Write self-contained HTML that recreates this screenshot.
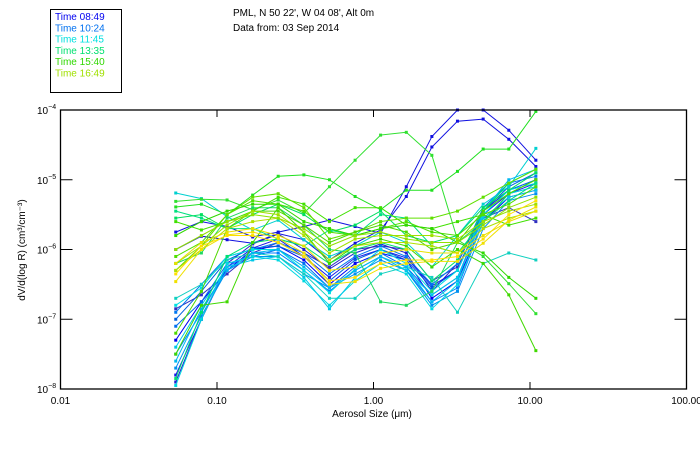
<!DOCTYPE html>
<html><head><meta charset="utf-8"><style>
body{margin:0;background:#fff;}
svg{display:block;font-family:"Liberation Sans",sans-serif;}
</style></head><body>
<svg id="chart" width="700" height="450">
<g id="legend">
<rect x="50.5" y="9.5" width="71" height="83" fill="none" stroke="#000"/>
</g>
<text x="233" y="16" font-size="10">PML, N 50 22', W 04 08', Alt 0m</text>
<text x="233" y="31" font-size="10">Data from: 03 Sep 2014</text>
<g id="plot"></g>
<g id="axes"></g>
<text x="372" y="417" font-size="10" text-anchor="middle">Aerosol Size (μm)</text>
<text transform="translate(25,250) rotate(-90)" font-size="10" text-anchor="middle">dV/d(log R) (cm³/cm⁻³)</text>
</svg>
<script>
const sizes=[0.0545,0.0795,0.116,0.169,0.246,0.359,0.523,0.763,1.11,1.62,2.36,3.44,5.02,7.32,10.9];
const xTicks=[0.01,0.1,1,10,100];
const xTickLabels=["0.01","0.10","1.00","10.00","100.00"];
const yTickExps=[-4,-5,-6,-7,-8];
const legendTimes=["08:49","10:24","11:45","13:35","15:40","16:49"];
const legendColors=["#0000f0","#0070f0","#00e0e0","#00e070","#30d800","#a0e000"];
const seriesColors=["#1010e0","#1010e0","#2020d0","#1818e8","#3030c0","#0000f0",
"#0070f0","#0080ff","#0060e0","#0090f0","#0078f0",
"#00d0d0","#00d8e0","#00c8e8","#00e0e0","#10d0c0","#00b8f0",
"#30e030","#20e020","#00e080","#00e070","#20d860","#00e060",
"#40e000","#50e000","#40d800","#60e000","#30d800","#50d800",
"#a0e000","#b0e000","#90e000",
"#f0e000","#ffe000","#e8e000"];
const seriesLog10=[
[-5.75,-5.60,-5.67,-5.82,-5.75,-5.67,-5.58,-5.67,-5.77,-5.10,-4.38,-4.0,-4.0,-4.29,-4.72],
[-6.0,-5.81,-5.86,-5.91,-5.77,-5.86,-6.15,-5.91,-5.72,-5.24,-4.53,-4.16,-4.13,-4.42,-4.81],
[-7.9,-7.0,-6.2,-5.92,-5.78,-6.0,-6.28,-6.05,-5.92,-6.05,-6.6,-6.2,-5.45,-5.15,-5.0],
[-7.8,-7.0,-6.25,-5.98,-5.85,-6.1,-6.4,-6.12,-6.0,-6.12,-6.52,-6.3,-5.5,-5.2,-5.05],
[-6.85,-6.65,-6.35,-6.05,-5.9,-6.05,-6.25,-6.0,-5.95,-6.0,-6.45,-6.25,-5.55,-5.4,-5.6],
[-7.3,-6.75,-6.3,-6.0,-5.95,-6.15,-6.5,-6.2,-6.05,-6.15,-6.7,-6.45,-5.6,-5.25,-5.15],
[-7.1,-6.75,-6.2,-6.1,-6.0,-6.2,-6.55,-6.25,-6.05,-6.25,-6.65,-6.4,-5.5,-5.15,-5.0],
[-7.5,-6.9,-6.25,-6.05,-6.05,-6.3,-6.6,-6.3,-6.1,-6.3,-6.75,-6.55,-5.6,-5.2,-5.1],
[-7.0,-6.6,-6.15,-5.98,-5.95,-6.1,-6.45,-6.15,-6.0,-6.15,-6.55,-6.3,-5.45,-5.1,-4.9],
[-7.7,-6.95,-6.3,-6.1,-6.1,-6.35,-6.55,-6.35,-6.15,-6.3,-6.8,-6.6,-5.7,-5.3,-5.2],
[-6.9,-6.5,-6.1,-6.0,-5.9,-6.05,-6.35,-6.1,-5.95,-6.1,-6.5,-6.2,-5.4,-5.05,-4.95],
[-5.19,-5.27,-5.53,-5.72,-5.58,-5.86,-6.1,-5.95,-5.75,-5.9,-6.25,-5.8,-5.35,-5.1,-4.55],
[-7.95,-7.0,-6.2,-6.1,-6.15,-6.45,-6.8,-6.45,-6.2,-6.35,-6.85,-6.5,-5.6,-5.2,-5.1],
[-7.4,-6.8,-6.25,-6.15,-6.1,-6.4,-6.85,-6.4,-6.1,-6.3,-6.65,-6.4,-5.55,-5.25,-5.15],
[-6.8,-6.55,-6.1,-6.0,-6.0,-6.3,-6.62,-6.28,-6.0,-6.2,-6.6,-6.3,-5.5,-5.15,-5.05],
[-6.7,-6.5,-6.15,-6.05,-6.1,-6.35,-6.7,-6.7,-6.35,-6.25,-6.4,-6.9,-6.2,-6.05,-6.15],
[-7.6,-6.85,-6.3,-6.05,-6.0,-6.25,-6.55,-6.3,-6.1,-6.25,-6.75,-6.45,-5.45,-5.0,-4.85],
[-5.31,-5.28,-5.29,-5.43,-5.29,-5.48,-5.10,-4.72,-4.36,-4.32,-4.65,-5.86,-6.10,-6.49,-6.92],
[-5.39,-5.35,-5.5,-5.22,-4.95,-4.93,-5.0,-5.24,-5.43,-5.15,-5.15,-4.88,-4.56,-4.56,-4.02],
[-5.45,-5.55,-5.7,-5.7,-5.85,-5.95,-5.72,-5.8,-5.5,-5.55,-5.95,-6.05,-5.6,-5.3,-5.05],
[-7.85,-6.9,-6.1,-5.9,-5.85,-5.95,-6.2,-6.0,-5.9,-6.0,-6.45,-6.15,-5.45,-5.05,-4.85],
[-6.2,-6.05,-5.55,-5.4,-5.4,-5.65,-6.0,-6.05,-6.75,-6.8,-6.6,-5.9,-5.6,-5.2,-5.0],
[-5.55,-5.5,-5.7,-5.5,-5.35,-5.5,-5.75,-5.65,-5.45,-5.8,-5.9,-5.8,-5.4,-5.15,-4.9],
[-5.6,-5.72,-5.6,-5.45,-5.25,-5.35,-5.6,-5.4,-5.4,-5.65,-5.7,-5.6,-5.5,-5.65,-5.55],
[-6.1,-5.9,-5.5,-5.3,-5.35,-5.45,-5.75,-5.8,-5.7,-5.6,-5.75,-5.8,-5.5,-5.35,-5.1],
[-7.5,-6.8,-6.75,-5.9,-5.4,-5.75,-6.2,-5.95,-5.85,-5.95,-6.25,-6.0,-6.2,-6.65,-7.45],
[-6.3,-5.95,-5.5,-5.25,-5.2,-5.4,-5.85,-5.75,-5.6,-5.55,-5.55,-5.45,-5.25,-5.05,-4.85],
[-5.8,-5.6,-5.45,-5.35,-5.35,-5.6,-5.7,-5.8,-5.7,-5.65,-5.7,-5.9,-6.05,-6.4,-6.7],
[-7.2,-6.6,-5.7,-5.45,-5.45,-5.65,-5.9,-5.75,-5.65,-5.75,-6.0,-5.9,-5.45,-5.2,-5.0],
[-6.2,-5.95,-5.65,-5.45,-5.5,-5.75,-6.05,-5.85,-5.8,-5.8,-5.8,-5.85,-5.6,-5.45,-5.35],
[-6.3,-6.0,-5.7,-5.6,-5.55,-5.8,-6.15,-5.95,-5.9,-5.9,-5.95,-6.05,-5.7,-5.55,-5.45],
[-6.0,-5.8,-5.6,-5.5,-5.55,-5.7,-5.95,-5.8,-5.75,-5.85,-5.9,-5.9,-5.65,-5.4,-5.25],
[-6.46,-6.0,-5.79,-5.75,-5.84,-6.05,-6.5,-6.46,-6.27,-6.2,-6.17,-6.17,-5.91,-5.58,-5.39],
[-6.35,-5.95,-5.8,-5.8,-5.9,-6.1,-6.45,-6.4,-6.2,-6.15,-6.15,-6.1,-5.85,-5.5,-5.3],
[-6.2,-5.9,-5.75,-5.7,-5.8,-5.95,-6.3,-6.25,-6.05,-6.0,-6.05,-6.05,-5.8,-5.6,-5.45]
];
const NS="http://www.w3.org/2000/svg";
const L=60.5,R=686.5,T=110,B=389;
function xs(v){return L+(Math.log10(v)+2)/4*(R-L);}
function ys(e){return T+(-4-e)/4*(B-T);}
function mk(tag,at,parent){const el=document.createElementNS(NS,tag);for(const k in at)el.setAttribute(k,at[k]);parent.appendChild(el);return el;}
const plot=document.getElementById('plot'),axes=document.getElementById('axes'),legend=document.getElementById('legend');
legendTimes.forEach((t,i)=>{
 const el=mk('text',{x:55,y:20+i*11.3,'font-size':10,fill:legendColors[i]},legend);
 
 
 el.textContent='Time '+t;
});
seriesLog10.forEach((s,i)=>{
 const g=mk('g',{},plot);
 
 
 const pts=s.map((e,j)=>xs(sizes[j]).toFixed(1)+','+ys(e).toFixed(1)).join(' ');
 mk('polyline',{points:pts,fill:'none',stroke:seriesColors[i],'stroke-width':1},g);
 s.forEach((e,j)=>{
  const r=mk('rect',{x:xs(sizes[j])-1.5,y:ys(e)-1.5,width:3,height:3,fill:seriesColors[i]},g);
  
  
 });
});
const frame=mk('rect',{x:L,y:T,width:R-L,height:B-T,fill:'none',stroke:'#000','stroke-width':1.3},axes);


xTicks.forEach((v,i)=>{
 const x=xs(v);
 mk('line',{x1:x,y1:B,x2:x,y2:B-7,stroke:'#000'},axes);
 mk('line',{x1:x,y1:T,x2:x,y2:T+7,stroke:'#000'},axes);
 const t=mk('text',{x:x,y:404,'font-size':10,'text-anchor':'middle'},axes);
 
 
 t.textContent=xTickLabels[i];
});
yTickExps.forEach(e=>{
 const y=ys(e);
 mk('line',{x1:L,y1:y,x2:L+12,y2:y,stroke:'#000'},axes);
 mk('line',{x1:R,y1:y,x2:R-12,y2:y,stroke:'#000'},axes);
 const t=mk('text',{x:37,y:y+4,'font-size':10},axes);
 
 
 t.textContent='10';
 const s=mk('tspan',{dy:-5,'font-size':7},t);
 s.textContent='−'+(-e);
});
</script>
</body></html>
